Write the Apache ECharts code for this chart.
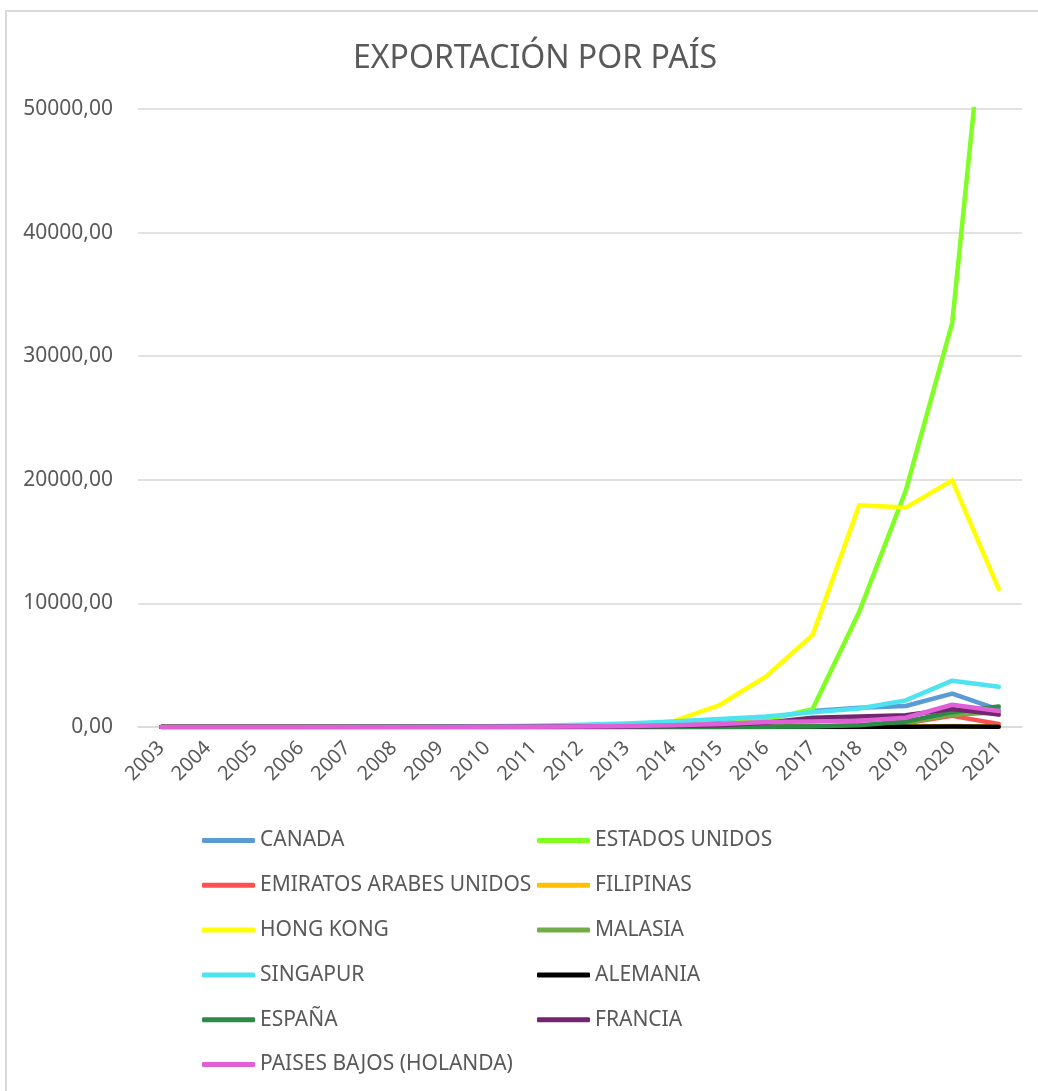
<!DOCTYPE html>
<html>
<head>
<meta charset="utf-8">
<script src="https://cdn.jsdelivr.net/npm/echarts@6/dist/echarts.min.js"></script>
<style>
html,body{margin:0;padding:0;background:#fff;}
#frame{position:absolute;left:5px;top:10px;width:1040px;height:1090px;border-left:2px solid #d9d9d9;border-top:2px solid #d9d9d9;}
#chart{position:absolute;left:0;top:0;width:1038px;height:1091px;}
</style>
</head>
<body>
<div id="frame"></div>
<div id="chart"></div>
<script>
const years = ['2003','2004','2005','2006','2007','2008','2009','2010','2011','2012','2013','2014','2015','2016','2017','2018','2019','2020','2021'];
const canada      = [0,0,0,5,10,15,20,30,50,80,120,200,400,700,1300,1550,1700,2700,1400];
const estadosUnidos = [0,0,0,0,0,5,10,10,20,30,50,100,250,600,1450,9300,19100,32700,70000];
const emiratos    = [0,0,0,0,0,0,0,0,0,0,0,0,0,10,50,100,300,900,250];
const filipinas   = [0,0,0,0,0,0,0,0,0,0,0,0,0,10,20,30,50,80,40];
const hongKong    = [0,0,0,0,0,0,0,10,20,50,150,450,1780,4100,7450,17950,17750,19950,11150];
const malasia     = [0,0,0,0,0,0,0,0,0,0,0,0,0,20,50,100,350,1000,1200];
const singapur    = [0,0,0,10,20,30,40,60,100,180,280,450,650,850,1200,1500,2150,3750,3250];
const alemania    = [0,0,0,0,0,0,0,0,0,0,0,0,0,0,0,10,30,40,30];
const espana      = [0,0,0,0,0,0,0,0,0,0,0,0,0,20,50,150,450,1200,1650];
const francia     = [0,0,0,0,0,0,0,0,10,20,40,80,150,350,750,850,950,1450,1000];
const paisesBajos = [0,0,0,5,10,10,10,20,30,50,80,150,250,400,450,500,750,1800,1300];
const yTicks = [0,10000,20000,30000,40000,50000];

const seriesDefs = [
  ['CANADA', canada, '#5B9BD5'],
  ['ESTADOS UNIDOS', estadosUnidos, '#7FFF22'],
  ['EMIRATOS ARABES UNIDOS', emiratos, '#FF5050'],
  ['FILIPINAS', filipinas, '#FFC000'],
  ['HONG KONG', hongKong, '#FFFF00'],
  ['MALASIA', malasia, '#70AD47'],
  ['SINGAPUR', singapur, '#4FE3F0'],
  ['ALEMANIA', alemania, '#000000'],
  ['ESPAÑA', espana, '#2E8B47'],
  ['FRANCIA', francia, '#74256F'],
  ['PAISES BAJOS (HOLANDA)', paisesBajos, '#E060D8']
];

const font = 'Noto Sans';
const txt = '#595959';
const legendText = {color: txt, fontSize: 21, fontFamily: font, lineHeight: 20};

const chart = echarts.init(document.getElementById('chart'), null, {renderer: 'canvas'});
chart.setOption({
  animation: false,
  backgroundColor: 'transparent',
  title: {
    text: 'EXPORTACIÓN POR PAÍS',
    left: 348,
    top: 38,
    textStyle: {color: txt, fontSize: 32, fontWeight: 'normal', fontFamily: font}
  },
  grid: {left: 138, right: 16, top: 109, bottom: 364, containLabel: false},
  legend: [
    {
      orient: 'vertical', left: 197, top: 825, itemWidth: 53, itemHeight: 5, itemGap: 23.8,
      icon: 'roundRect', textStyle: legendText,
      data: ['CANADA','EMIRATOS ARABES UNIDOS','HONG KONG','SINGAPUR','ESPAÑA','PAISES BAJOS (HOLANDA)']
    },
    {
      orient: 'vertical', left: 532, top: 825, itemWidth: 53, itemHeight: 5, itemGap: 23.8,
      icon: 'roundRect', textStyle: legendText,
      data: ['ESTADOS UNIDOS','FILIPINAS','MALASIA','ALEMANIA','FRANCIA']
    }
  ],
  xAxis: {
    type: 'category',
    data: years,
    boundaryGap: true,
    axisLine: {show: true, lineStyle: {color: '#d9d9d9', width: 1.5}},
    axisTick: {show: false},
    axisLabel: {rotate: 45, color: txt, fontSize: 20, fontFamily: font, margin: 18, interval: 0}
  },
  yAxis: {
    type: 'value',
    min: yTicks[0], max: yTicks[yTicks.length - 1], interval: 10000,
    axisLine: {show: false},
    axisTick: {show: false},
    splitLine: {lineStyle: {color: '#d9d9d9', width: 1.5}},
    axisLabel: {
      color: txt, fontSize: 21, fontFamily: font, margin: 25,
      formatter: v => v.toFixed(2).replace('.', ',')
    }
  },
  series: seriesDefs.map(([name, data, color]) => ({
    name, type: 'line', data, color,
    showSymbol: false, symbol: 'none',
    clip: true,
    lineStyle: {width: 4.5, color, cap: 'round', join: 'round'}
  }))
});
</script>
</body>
</html>
